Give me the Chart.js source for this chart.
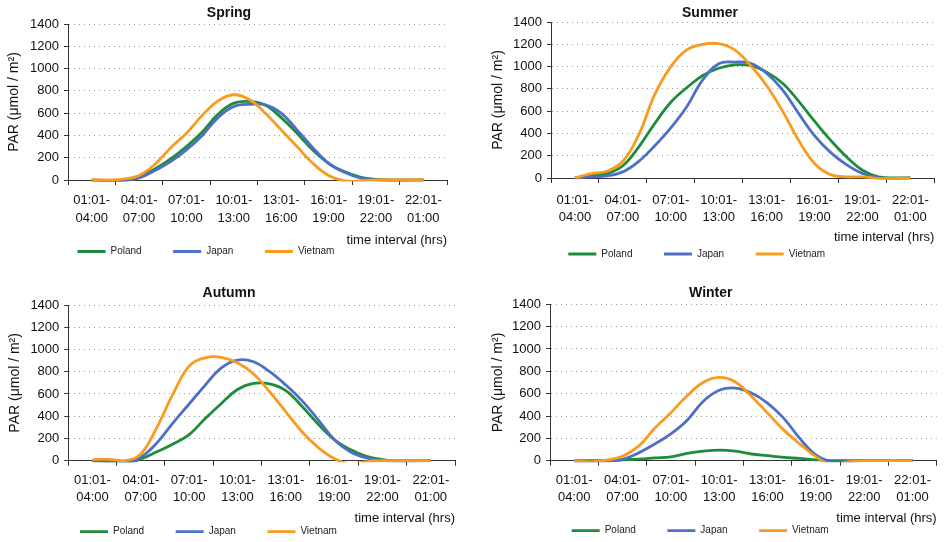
<!DOCTYPE html>
<html><head><meta charset="utf-8">
<script src="https://cdn.jsdelivr.net/npm/chart.js@4/dist/chart.umd.min.js"></script>
<style>
html,body{margin:0;padding:0;background:#fff;width:945px;height:542px;overflow:hidden}
canvas{position:absolute;display:block}
</style></head><body>
<canvas id="spring" width="472" height="270" style="left:0;top:0"></canvas>
<canvas id="summer" width="473" height="270" style="left:472px;top:0"></canvas>
<canvas id="autumn" width="472" height="272" style="left:0;top:270px"></canvas>
<canvas id="winter" width="473" height="272" style="left:472px;top:270px"></canvas>
<script>
const timeLabels = [['01:01-','04:00'],['04:01-','07:00'],['07:01-','10:00'],['10:01-','13:00'],['13:01-','16:00'],['16:01-','19:00'],['19:01-','22:00'],['22:01-','01:00']];
const hourPoints = [1.5,2.5,3.5,4.5,5.5,6.5,7.5,8.5,9.5,10.5,11.5,12.5,13.5,14.5,15.5,16.5,17.5,18.5,19.5,20.5,21.5,22.5];
const seriesNames = ['Poland','Japan','Vietnam'];
const seriesColors = ['#1f8c3b','#4d6fc6','#f89b1f'];

const springPoland  = [0,-5,-3,25,100,190,300,430,590,690,705,670,560,420,270,150,75,25,5,0,0,0];
const springJapan   = [-5,-10,-5,18,85,165,270,400,560,660,680,675,600,450,290,150,70,20,0,-8,-5,0];
const springVietnam = [0,0,8,40,140,290,420,580,710,765,720,600,450,300,150,40,-8,-8,0,0,0,0];

const summerPoland  = [0,25,40,110,280,490,680,810,920,985,1015,1010,950,850,690,510,340,190,70,10,0,0];
const summerJapan   = [0,10,20,55,150,290,450,640,880,1025,1040,1030,940,790,580,380,230,120,40,0,-5,0];
const summerVietnam = [0,40,60,150,390,750,1000,1150,1200,1205,1150,1010,830,600,340,130,30,10,10,-5,-5,0];

const autumnPoland  = [0,-10,-20,15,80,150,235,380,515,640,695,690,630,490,330,190,100,40,10,0,0,0];
const autumnJapan   = [0,-10,-25,30,160,340,510,680,835,905,890,800,680,540,370,190,80,25,0,-10,-5,0];
const autumnVietnam = [10,12,0,60,300,600,850,925,930,880,780,620,440,260,120,20,-30,-8,0,0,0,0];

const winterPoland  = [0,0,0,8,15,25,35,65,85,95,85,60,45,30,20,8,0,0,0,0,0,0];
const winterJapan   = [-20,-15,-5,12,70,150,240,360,530,630,650,606,516,381,200,51,-10,-10,0,0,0,0];
const winterVietnam = [0,-10,5,40,130,290,430,580,700,745,705,576,426,276,150,36,-40,-10,0,0,0,0];

const yTicksMax = 1400, yTickStep = 200;
const FONT = "'Liberation Sans', Arial, Helvetica, sans-serif";

const placer = {
  id: 'placer',
  afterLayout(chart, args, o) {
    const t = chart.titleBlock;
    if (t && o.titleX != null) { t.left = o.titleX - 150; t.right = o.titleX + 150; }
    const lg = chart.legend;
    if (lg && o.legendX != null) {
      const pad = lg.options.labels.padding;
      lg.left = o.legendX - pad; lg.right = lg.left + 420;
      lg.top = o.legendY - pad - 5; lg.bottom = lg.top + pad + 30;
    }
  }
};

function makePanel(id, title, values, g) {
  const H = g.H;
  const legendPad = 31.5, legendH = 2;
  const tickLH = 13 * 1.35, xTitleLH = 13 * 1.2, titleLH = 14 * 1.2, yTitleLH = 14 * 1.2;
  new Chart(document.getElementById(id), {
    type: 'line',
    data: {
      datasets: seriesNames.map((name, k) => ({
        label: name,
        data: hourPoints.map((h, i) => ({x: h, y: values[k][i]})),
        borderColor: seriesColors[k],
        backgroundColor: seriesColors[k],
        borderWidth: 2.8,
        tension: 0.4,
        pointRadius: 0,
        pointHoverRadius: 0,
        fill: false,
        xAxisID: 'xh',
        yAxisID: 'y',
        order: 3 - k,
        clip: {left: 0, top: 0, right: 0, bottom: 1.5}
      }))
    },
    options: {
      responsive: false,
      animation: false,
      events: [],
      layout: {padding: {left: 0, top: 0, bottom: 0, right: g.W - g.R}},
      plugins: {
        title: {
          display: true, text: title, color: '#111',
          font: {family: FONT, size: 14, weight: 'bold', lineHeight: 1.2},
          padding: {top: g.titleY - titleLH / 2, bottom: g.T - g.titleY - titleLH / 2}
        },
        legend: {
          display: true, position: 'bottom', align: 'start', fullSize: false, maxHeight: legendH,
          labels: {
            font: {family: FONT, size: 10}, color: '#222',
            usePointStyle: true, pointStyle: 'line', pointStyleWidth: 28,
            padding: legendPad,
            sort: (a, b) => a.datasetIndex - b.datasetIndex
          }
        },
        tooltip: {enabled: false},
        placer: {titleX: g.titleX, legendX: g.legendX, legendY: g.legendY}
      },
      scales: {
        x: {
          type: 'category', labels: timeLabels, position: 'bottom', offset: true,
          grid: {display: true, offset: true, drawOnChartArea: false, drawTicks: true, tickLength: 5, tickColor: '#333', tickWidth: 1},
          border: {display: true, color: '#333', width: 1},
          ticks: {font: {family: FONT, size: 13, lineHeight: 1.35}, color: '#111', padding: g.line1 - g.B - 5 - tickLH / 2, autoSkip: false, maxRotation: 0, minRotation: 0},
          title: {display: true, text: 'time interval (hrs)', align: 'end', color: '#111',
                  font: {family: FONT, size: 13, lineHeight: 1.2},
                  padding: {top: 0, bottom: (H - legendH) - g.xTitleY - xTitleLH / 2}},
          afterFit: s => { s.height = H - g.B - legendH; }
        },
        xh: {type: 'linear', display: false, min: 0, max: 24, position: 'bottom'},
        y: {
          type: 'linear', position: 'left', min: 0, max: yTicksMax,
          ticks: {stepSize: yTickStep, font: {family: FONT, size: 13}, color: '#111', padding: 5, callback: v => String(v)},
          grid: {color: '#9a9a9a', lineWidth: 1, drawTicks: true, tickLength: 4, tickColor: '#333'},
          border: {display: true, color: '#333', width: 1, dash: [1, 4]},
          title: {display: true, text: 'PAR (μmol / m²)', color: '#111',
                  font: {family: FONT, size: 14, lineHeight: 1.2},
                  padding: {top: g.yTitleX - yTitleLH / 2, bottom: 0}},
          afterFit: s => { s.width = g.L; }
        }
      }
    },
    plugins: [placer]
  });
}

makePanel('spring', 'Spring', [springPoland, springJapan, springVietnam],
  {W: 472, H: 270, L: 68, R: 447, T: 24, B: 180, titleX: 229, titleY: 13.5, line1: 200.5, xTitleY: 240, legendX: 77.5, legendY: 251.5, yTitleX: 14});
makePanel('summer', 'Summer', [summerPoland, summerJapan, summerVietnam],
  {W: 473, H: 270, L: 79, R: 462.3, T: 22, B: 178, titleX: 238, titleY: 13.5, line1: 200, xTitleY: 237.5, legendX: 96.3, legendY: 254, yTitleX: 26.3});
makePanel('autumn', 'Autumn', [autumnPoland, autumnJapan, autumnVietnam],
  {W: 472, H: 272, L: 68.3, R: 455, T: 35, B: 190.7, titleX: 229, titleY: 23.3, line1: 210, xTitleY: 248.3, legendX: 80, legendY: 261.7, yTitleX: 15});
makePanel('winter', 'Winter', [winterPoland, winterJapan, winterVietnam],
  {W: 473, H: 272, L: 78, R: 464.7, T: 34.3, B: 190.7, titleX: 238.8, titleY: 23.3, line1: 210, xTitleY: 248.3, legendX: 99.7, legendY: 260.7, yTitleX: 26.3});
</script>
</body></html>
